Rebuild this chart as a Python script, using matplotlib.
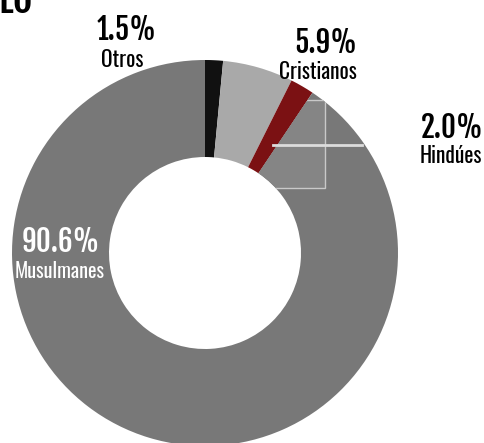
import matplotlib
matplotlib.use("Agg")
import matplotlib.pyplot as plt
from matplotlib.patches import Rectangle

# religion shares, clockwise from 12 o'clock
labels = ["Otros", "Cristianos", "Hindúes", "Musulmanes"]
shares = [1.5, 5.9, 2.0, 90.6]
colors = ["#111111", "#a9a9a9", "#7b1113", "#787878"]

W, H = 485, 443
NUM_FONT = ["Fjalla One", "Oswald", "DejaVu Sans"]
LAB_FONT = ["Oswald", "DejaVu Sans"]


def py(y):
    # picture rows counted from the top -> data y
    return H - y


fig = plt.figure(figsize=(W / 100, H / 100), dpi=100)
ax = fig.add_axes([0, 0, 1, 1])

wedges, _ = ax.pie(shares, colors=colors, radius=193, center=(205, py(253)),
                   startangle=90, counterclock=False,
                   wedgeprops=dict(width=97, linewidth=0))
ax.set_xlim(0, W)
ax.set_ylim(0, H)
ax.set_aspect("equal")
ax.axis("off")

# lighter box pasted over the ring next to the red slice
box = Rectangle((258, py(188)), 67, 88, facecolor="#858585",
                edgecolor="#c9c9c9", linewidth=1, zorder=2)
box.set_clip_path(wedges[3])
ax.add_patch(box)

# leader line for Hindúes
ax.plot([273, 362], [py(145), py(145)], color="#dcdcdc", linewidth=2, zorder=3)

# cut title at the top
ax.text(-2, py(13), "LO", fontsize=28, family=NUM_FONT,
        ha="left", va="baseline", color="black")

ax.text(127, py(40), f"{shares[0]}%", fontsize=21, family=NUM_FONT,
        ha="center", va="baseline")
ax.text(122, py(67), labels[0], fontsize=15.5, family=LAB_FONT,
        ha="center", va="baseline")

ax.text(357, py(53), f"{shares[1]}%", fontsize=21, family=NUM_FONT,
        ha="right", va="baseline")
ax.text(357, py(79), labels[1], fontsize=15.5, family=LAB_FONT,
        ha="right", va="baseline")

ax.text(484, py(138), f"{shares[2]}%", fontsize=21, family=NUM_FONT,
        ha="right", va="baseline")
ax.text(482, py(163), labels[2], fontsize=15.5, family=LAB_FONT,
        ha="right", va="baseline")

ax.text(61, py(252), f"{shares[3]}%", fontsize=21, family=NUM_FONT,
        ha="center", va="baseline", color="white")
ax.text(60, py(278), labels[3], fontsize=14.5, family=LAB_FONT,
        ha="center", va="baseline", color="white")

fig.savefig("out.png", dpi=100, facecolor="white")
